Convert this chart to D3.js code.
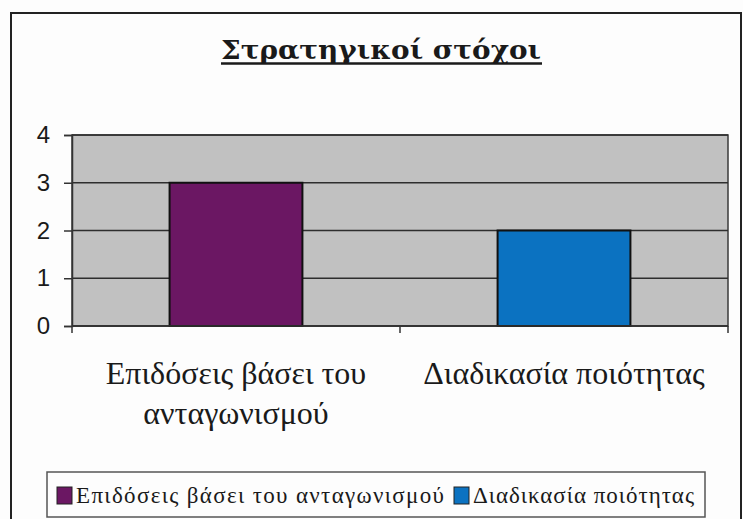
<!DOCTYPE html>
<html>
<head>
<meta charset="utf-8">
<script src="https://cdn.jsdelivr.net/npm/d3@7"></script>
<style>
  html, body { margin: 0; padding: 0; background: #fdfdfd; }
  svg { display: block; }
</style>
</head>
<body>
<svg id="chart" width="743" height="519"></svg>
<script>
// Chart data
const title = "Στρατηγικοί στόχοι";
const categories = ["Επιδόσεις βάσει του ανταγωνισμού", "Διαδικασία ποιότητας"];
const categoryLines = [["Επιδόσεις βάσει του", "ανταγωνισμού"], ["Διαδικασία ποιότητας"]];
const values = [3, 2];
const yTicks = [0, 1, 2, 3, 4];
const colors = ["#6b1763", "#0b72c1"];

const svg = d3.select("#chart");

// Outer chart frame
svg.append("rect")
  .attr("x", 11).attr("y", 13).attr("width", 730).attr("height", 530)
  .attr("fill", "#fdfdfd").attr("stroke", "#222").attr("stroke-width", 2);

// Title with a heavy underline
const titleText = svg.append("text")
  .attr("x", 381).attr("y", 59)
  .attr("text-anchor", "middle")
  .attr("font-family", "DejaVu Serif")
  .attr("font-weight", "bold")
  .attr("font-size", 26)
  .attr("fill", "#1a1a1a")
  .attr("textLength", 320)
  .attr("lengthAdjust", "spacingAndGlyphs")
  .text(title);
svg.append("line")
  .attr("x1", 221).attr("x2", 542).attr("y1", 63.5).attr("y2", 63.5)
  .attr("stroke", "#1a1a1a").attr("stroke-width", 2.5);

// Scales
const plot = { left: 72, right: 728, top: 135, bottom: 326 };
const x = d3.scaleBand().domain(categories).range([plot.left, plot.right]).padding(0);
const y = d3.scaleLinear().domain([0, 4]).range([plot.bottom, plot.top]);

// Plot area
svg.append("rect")
  .attr("x", plot.left).attr("y", plot.top)
  .attr("width", plot.right - plot.left).attr("height", plot.bottom - plot.top)
  .attr("fill", "#c1c1c1").attr("stroke", "#3a3a3a").attr("stroke-width", 1.5);

// Horizontal gridlines
svg.append("g").selectAll("line").data(yTicks).join("line")
  .attr("x1", plot.left).attr("x2", plot.right)
  .attr("y1", d => y(d)).attr("y2", d => y(d))
  .attr("stroke", "#2e2e2e").attr("stroke-width", 1.5);

// Bars
const barW = x.bandwidth() * 0.405;
svg.append("g").selectAll("rect").data(values).join("rect")
  .attr("x", (d, i) => x(categories[i]) + (x.bandwidth() - barW) / 2)
  .attr("y", d => y(d))
  .attr("width", barW)
  .attr("height", d => y(0) - y(d))
  .attr("fill", (d, i) => colors[i])
  .attr("stroke", "#111").attr("stroke-width", 2);

// Y axis
const yAxis = svg.append("g")
  .attr("transform", `translate(${plot.left},0)`)
  .call(d3.axisLeft(y).tickValues(yTicks).tickFormat(d3.format("d")).tickSize(8).tickPadding(14));
yAxis.select(".domain").attr("stroke", "#333").attr("stroke-width", 1.5);
yAxis.selectAll(".tick line").attr("stroke", "#333").attr("stroke-width", 1.5);
yAxis.selectAll(".tick text")
  .attr("font-family", "Liberation Sans, Arial, sans-serif")
  .attr("font-size", 24).attr("fill", "#1a1a1a");

// X axis: category dividers as ticks
const xAxis = svg.append("g")
  .attr("transform", `translate(0,${plot.bottom})`);
xAxis.append("line")
  .attr("x1", plot.left).attr("x2", plot.right)
  .attr("stroke", "#333").attr("stroke-width", 1.5);
const edges = categories.map(c => x(c)).concat([x(categories[categories.length - 1]) + x.bandwidth()]);
xAxis.selectAll("line.tk").data(edges).join("line").attr("class", "tk")
  .attr("x1", d => d).attr("x2", d => d).attr("y1", 0).attr("y2", 7)
  .attr("stroke", "#333").attr("stroke-width", 1.5);

// Category labels
const labels = svg.append("g").selectAll("text").data(categories).join("text")
  .attr("x", d => x(d) + x.bandwidth() / 2)
  .attr("y", 384)
  .attr("text-anchor", "middle")
  .attr("font-family", "Liberation Serif, Times New Roman, serif")
  .attr("font-size", 32)
  .attr("fill", "#1a1a1a");
labels.each(function(d, i) {
  d3.select(this).selectAll("tspan").data(categoryLines[i]).join("tspan")
    .attr("x", x(d) + x.bandwidth() / 2)
    .attr("dy", (l, j) => j === 0 ? 0 : 40)
    .text(l => l);
});

// Legend
const legend = svg.append("g");
legend.append("rect")
  .attr("x", 47).attr("y", 472).attr("width", 658).attr("height", 45)
  .attr("fill", "#fdfdfd").attr("stroke", "#555").attr("stroke-width", 1.5);
const legendX = [57, 454];
const legendTextW = [368, 221];
const items = legend.selectAll("g.item").data(categories).join("g").attr("class", "item")
  .attr("transform", (d, i) => `translate(${legendX[i]},0)`);
items.append("rect")
  .attr("x", 0).attr("y", 487).attr("width", 15).attr("height", 17)
  .attr("fill", (d, i) => colors[i]).attr("stroke", "#222").attr("stroke-width", 1);
items.append("text")
  .attr("x", 19).attr("y", 503)
  .attr("font-family", "Liberation Serif, Times New Roman, serif")
  .attr("font-size", 23)
  .attr("fill", "#1a1a1a")
  .attr("textLength", (d, i) => legendTextW[i])
  .attr("lengthAdjust", "spacing")
  .text(d => d);
</script>
</body>
</html>
